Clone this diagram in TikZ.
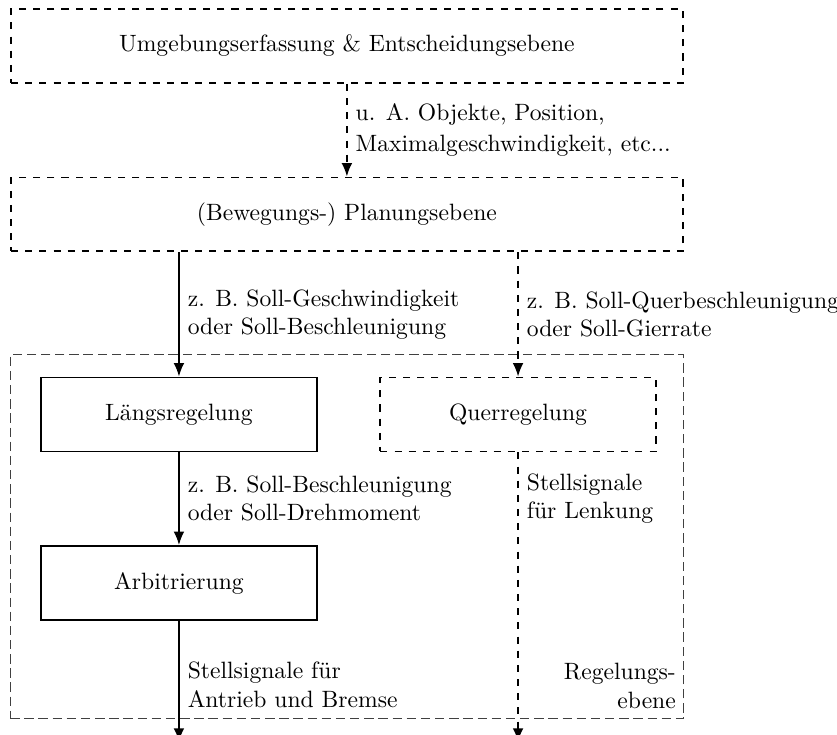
\documentclass[tikz,border=0pt]{standalone}
\usetikzlibrary{arrows.meta, positioning, fit, calc}
\tikzset{
  ebene/.style={draw=black, dashed, line width=0.8pt,
    minimum width=100mm, minimum height=11mm, inner sep=3pt},
  regler/.style={draw=black, line width=0.8pt,
    minimum width=41mm, minimum height=11mm, inner sep=3pt},
  reglerdashed/.style={regler, dashed},
  regelbox/.style={draw=black!75, dash pattern=on 4pt off 2pt, line width=0.4pt, inner sep=0pt},
  flow/.style={-{Latex[length=2mm, width=1.6mm]}, line width=0.8pt, draw=black},
  flowdashed/.style={flow, dashed},
  siglabel/.style={anchor=west, align=left},
  ebenelabel/.style={anchor=south east, align=right},
}

\begin{document}
\begin{tikzpicture}

  \useasboundingbox (-1.5mm,1.2mm) rectangle (123.1mm,-108.1mm);

  % ==================================================================
  % obere Ebenen
  % ==================================================================
  \node[ebene, anchor=north west] (top) at (0,0)
    {Umgebungserfassung \& Entscheidungsebene};

  \node[ebene, below=13.8mm of top] (planung)
    {(Bewegungs-) Planungsebene};

  % ==================================================================
  % Regelungsebene
  % ==================================================================
  \node[regler, below right=18.5mm and 4.5mm of planung.south west] (laengs)
    {L\"angsregelung};

  \node[reglerdashed, right=9.2mm of laengs] (quer)
    {Querregelung};

  \node[regler, below=13.8mm of laengs] (arbit)
    {Arbitrierung};

  \coordinate (regtop) at ($(laengs.north)+(0,3.3mm)$);
  \coordinate (regbot) at ($(arbit.south)+(0,-14.6mm)$);
  \node[regelbox, fit=(planung.west |- regtop)(planung.east |- regbot)] (regel) {};

  \node[ebenelabel] at ($(regel.south east)+(0,0.4mm)$) {Regelungs-\\ebene};

  \coordinate (outl) at ($(arbit.south)+(0,-18mm)$);
  \coordinate (outq) at (quer.south |- outl);

  % ----------------------------------------------------------------
  % Pfeile
  % ----------------------------------------------------------------
  \draw[flowdashed] (top) -- (planung)
    node[siglabel, midway] {u. A. Objekte, Position,\\[1pt] Maximalgeschwindigkeit, etc...};

  \draw[flow] (laengs |- planung.south) -- (laengs)
    node[siglabel, midway] {z. B. Soll-Geschwindigkeit\\ oder Soll-Beschleunigung};

  \draw[flowdashed] (quer |- planung.south) -- (quer)
    node[siglabel, midway] {z. B. Soll-Querbeschleunigung\\ oder Soll-Gierrate};

  \draw[flow] (laengs) -- (arbit)
    node[siglabel, midway] {z. B. Soll-Beschleunigung\\ oder Soll-Drehmoment};

  \draw[flow] (arbit) -- (outl)
    node[siglabel, pos=0.53] {Stellsignale f\"ur\\ Antrieb und Bremse};

  \draw[flowdashed] (quer) -- (outq)
    node[siglabel, pos=0.16] {Stellsignale\\ f\"ur Lenkung};

\end{tikzpicture}
\end{document}
